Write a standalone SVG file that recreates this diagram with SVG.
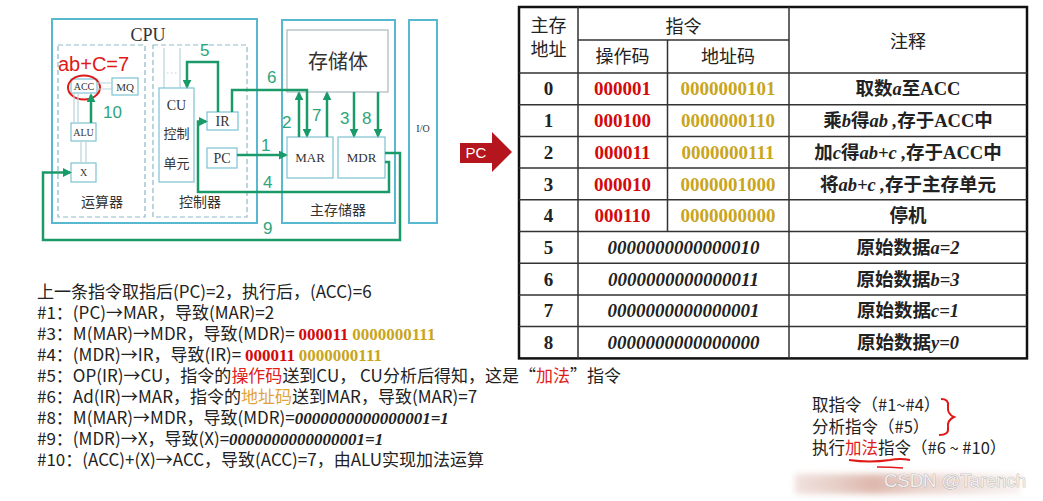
<svg xmlns="http://www.w3.org/2000/svg" width="1043" height="501" viewBox="0 0 1043 501">
<defs>
<marker id="ah" viewBox="0 0 10 10" refX="8" refY="5" markerWidth="3.6" markerHeight="3.6" orient="auto" markerUnits="strokeWidth">
<path d="M0,0 L10,5 L0,10 z" fill="#1a9a68"/>
</marker>
<linearGradient id="band" x1="0" x2="1" y1="0" y2="0">
<stop offset="0" stop-color="#eddcd8"/>
<stop offset="0.2" stop-color="#e2c4bb"/>
<stop offset="0.35" stop-color="#d8ab9e"/>
<stop offset="0.55" stop-color="#e6cbc3"/>
<stop offset="0.8" stop-color="#eee0dc"/>
<stop offset="1" stop-color="#f6efed"/>
</linearGradient>
<filter id="bl" x="-10%" y="-50%" width="120%" height="200%"><feGaussianBlur stdDeviation="3"/></filter>
</defs>
<style>
.cy{fill:none;stroke:#58b8d0;stroke-width:2}
.dash{fill:none;stroke:#8ab9c6;stroke-width:1.2;stroke-dasharray:5 3}
.sb{fill:#fff;stroke:#7cc3d4;stroke-width:1.2}
.gb{fill:#fff;stroke:#a9b8bd;stroke-width:1.2}
.gr{fill:none;stroke:#1a9a68;stroke-width:2.5}
.lt{fill:none;stroke:#b9d3db;stroke-width:1.2}
.lbl{font-family:"Liberation Sans",sans-serif;font-size:17px;fill:#2ea57a}
.bx{font-family:"Liberation Serif",serif;fill:#333;text-anchor:middle}
.cn{font-family:"Noto Sans CJK SC",sans-serif;fill:#333;text-anchor:middle}
.th{font-family:"Noto Sans CJK SC",sans-serif;font-size:18px;fill:#222;text-anchor:middle}
.tn{font-family:"Liberation Serif",serif;font-weight:bold;font-size:19px;fill:#222;text-anchor:middle}
.op{font-family:"Liberation Serif",serif;font-weight:bold;font-size:19px;fill:#d40a0a;text-anchor:middle}
.ad{font-family:"Liberation Serif",serif;font-weight:bold;font-size:19px;fill:#c9a51c;text-anchor:middle}
.zi{font-family:"Liberation Serif",serif;font-weight:bold;font-style:italic;font-size:19px;fill:#222;text-anchor:middle}
.nt{font-family:"Noto Sans CJK SC",sans-serif;font-weight:bold;font-size:18.5px;fill:#222;text-anchor:middle}
.it{font-family:"Liberation Serif",serif;font-weight:bold;font-style:italic}
.sf{font-family:"Liberation Serif",serif;font-weight:bold}
.tl{stroke:#333;stroke-width:1.5;fill:none}
.bt{font-family:"Noto Sans CJK SC",sans-serif;font-size:17px;fill:#222}
.rd{fill:#e02020}
.og{fill:#e3a33c}
.rb{font-family:"Liberation Serif",serif;font-weight:bold;fill:#d40a0a}
.gd{font-family:"Liberation Serif",serif;font-weight:bold;fill:#c9a51c}
.bi{font-family:"Liberation Serif",serif;font-weight:bold;font-style:italic}
.rn{font-family:"Noto Sans CJK SC",sans-serif;font-size:16.5px;fill:#222}
</style>
<rect width="1043" height="501" fill="#fff"/>

<!-- CPU -->
<g id="cpu">
<rect class="cy" x="52" y="19" width="205" height="204"/>
<text class="bx" x="148" y="41" font-size="18">CPU</text>
</g>
<g id="alu-unit">
<rect class="dash" x="58" y="45" width="87" height="172"/>
<text class="cn" x="102" y="207" font-size="14">运算器</text>
</g>
<g id="ctrl-unit">
<rect class="dash" x="153" y="45" width="94" height="172"/>
<text class="cn" x="200" y="207" font-size="14">控制器</text>
<path class="lt" d="M164,48 V88 M180,48 V88"/>
<path class="lt" d="M167,73 H178" stroke-dasharray="1.5 2.5"/>
</g>
<g id="acc">
<rect class="sb" x="71" y="79" width="26" height="14"/>
<text class="bx" x="84" y="90" font-size="10">ACC</text>
<ellipse cx="84" cy="87.5" rx="16" ry="12" fill="none" stroke="#e01818" stroke-width="2"/>
</g>
<g id="mq">
<rect class="sb" x="112" y="78" width="26" height="17"/>
<text class="bx" x="125" y="90.5" font-size="11">MQ</text>
</g>
<g id="alu">
<rect class="sb" x="71" y="123" width="25" height="18"/>
<text class="bx" x="83.5" y="136" font-size="10">ALU</text>
</g>
<g id="x">
<rect class="sb" x="71" y="163" width="25" height="19"/>
<text class="bx" x="83.5" y="176" font-size="10">X</text>
</g>
<g id="cu">
<rect class="sb" x="159" y="88" width="35" height="94"/>
<text class="bx" x="176.5" y="110" font-size="14">CU</text>
<text class="cn" x="176.5" y="138" font-size="13">控制</text>
<text class="cn" x="176.5" y="168" font-size="13">单元</text>
</g>
<g id="ir">
<rect class="sb" x="207" y="112" width="31" height="18"/>
<text class="bx" x="222.5" y="126" font-size="14">IR</text>
</g>
<g id="pc">
<rect class="sb" x="207" y="148" width="30" height="20"/>
<text class="bx" x="222" y="163" font-size="14">PC</text>
</g>
<g id="memory">
<rect class="cy" x="282" y="20" width="113" height="203"/>
<text class="cn" x="338" y="215" font-size="14">主存储器</text>
</g>
<g id="storage">
<rect class="gb" x="287" y="30" width="101" height="62"/>
<text class="cn" x="338" y="69" font-size="20">存储体</text>
</g>
<g id="mar">
<rect class="sb" x="287" y="137" width="46" height="41"/>
<text class="bx" x="310" y="162" font-size="13">MAR</text>
</g>
<g id="mdr">
<rect class="sb" x="338" y="137" width="47" height="41"/>
<text class="bx" x="361.5" y="162" font-size="13">MDR</text>
</g>
<g id="io">
<rect class="cy" x="409" y="20" width="28" height="203"/>
<text class="bx" x="423" y="132" font-size="10">I/O</text>
</g>

<g id="connectors">
<path class="lt" d="M97,83 H112 M97,89 H112"/>
<path class="lt" d="M74,93 V123 M78,93 V123"/>
<path class="lt" d="M81,141 V163 M86,141 V163"/>
<path class="gr" d="M91,123 V95" marker-end="url(#ah)"/>
<path class="gr" d="M218,112 V62 H187 V87" marker-end="url(#ah)"/>
<path class="gr" d="M232,112 V90 H307 V136" marker-end="url(#ah)"/>
<path class="gr" d="M237,155 H286" marker-end="url(#ah)"/>
<path class="gr" d="M385,162 H389 V192 H198 V121.5 H206" marker-end="url(#ah)"/>
<path class="gr" d="M385,153 H400 V240 H43 V172.5 H70" marker-end="url(#ah)"/>
<path class="gr" d="M299,137 V93" marker-end="url(#ah)"/>
<path class="gr" d="M327,137 V93" marker-end="url(#ah)"/>
<path class="gr" d="M354,92 V136" marker-end="url(#ah)"/>
<path class="gr" d="M378,92 V136" marker-end="url(#ah)"/>
<text class="lbl" x="103" y="118">10</text>
<text class="lbl" x="200" y="56">5</text>
<text class="lbl" x="267" y="83">6</text>
<text class="lbl" x="261" y="151">1</text>
<text class="lbl" x="263" y="188">4</text>
<text class="lbl" x="263" y="234">9</text>
<text class="lbl" x="282" y="128">2</text>
<text class="lbl" x="312" y="121">7</text>
<text class="lbl" x="340" y="124">3</text>
<text class="lbl" x="362" y="124">8</text>
</g>
<text x="58" y="71" font-family="Liberation Sans, sans-serif" font-size="20" fill="#e01818">ab+C=7</text>

<!-- PC arrow -->
<g id="pc-pointer">
<polygon points="460,143 492,143 492,132 512,152 492,172 492,163 460,163" fill="#b5161e"/>
<text x="476" y="158" font-family="Liberation Sans, sans-serif" font-size="15" fill="#fff" text-anchor="middle">PC</text>
</g>

<!-- Table -->
<g id="table">
<rect x="519" y="7" width="508" height="351.4" fill="#fff" stroke="#111" stroke-width="2.5"/>
<path class="tl" d="M578,7 V358.4 M789,7 V358.4 M667.5,40 V231.5 M578,40 H789"/>
<path class="tl" d="M519,73 H1027 M519,104.7 H1027 M519,136.4 H1027 M519,168.1 H1027 M519,199.8 H1027 M519,231.5 H1027 M519,263.2 H1027 M519,294.9 H1027 M519,326.6 H1027"/>
<text class="th" x="548.5" y="32">主存</text>
<text class="th" x="548.5" y="56">地址</text>
<text class="th" x="683.5" y="33">指令</text>
<text class="th" x="622.5" y="63">操作码</text>
<text class="th" x="728" y="63">地址码</text>
<text class="th" x="908" y="48">注释</text>

<text class="tn" x="548.5" y="95.4">0</text>
<text class="tn" x="548.5" y="127.1">1</text>
<text class="tn" x="548.5" y="158.8">2</text>
<text class="tn" x="548.5" y="190.5">3</text>
<text class="tn" x="548.5" y="222.2">4</text>
<text class="tn" x="548.5" y="253.9">5</text>
<text class="tn" x="548.5" y="285.6">6</text>
<text class="tn" x="548.5" y="317.3">7</text>
<text class="tn" x="548.5" y="349">8</text>

<text class="op" x="622.5" y="95.4">000001</text>
<text class="op" x="622.5" y="127.1">000100</text>
<text class="op" x="622.5" y="158.8">000011</text>
<text class="op" x="622.5" y="190.5">000010</text>
<text class="op" x="622.5" y="222.2">000110</text>

<text class="ad" x="728" y="95.4">0000000101</text>
<text class="ad" x="728" y="127.1">0000000110</text>
<text class="ad" x="728" y="158.8">0000000111</text>
<text class="ad" x="728" y="190.5">0000001000</text>
<text class="ad" x="728" y="222.2">0000000000</text>

<text class="zi" x="683.5" y="253.9">0000000000000010</text>
<text class="zi" x="683.5" y="285.6">0000000000000011</text>
<text class="zi" x="683.5" y="317.3">0000000000000001</text>
<text class="zi" x="683.5" y="349">0000000000000000</text>

<text class="nt" x="908" y="95.4">取数<tspan class="it">a</tspan>至<tspan class="sf">ACC</tspan></text>
<text class="nt" x="908" y="127.1">乘<tspan class="it">b</tspan>得<tspan class="it">ab ,</tspan>存于<tspan class="sf">ACC</tspan>中</text>
<text class="nt" x="908" y="158.8">加<tspan class="it">c</tspan>得<tspan class="it">ab+c  ,</tspan>存于<tspan class="sf">ACC</tspan>中</text>
<text class="nt" x="908" y="190.5">将<tspan class="it">ab+c ,</tspan>存于主存单元</text>
<text class="nt" x="908" y="222.2">停机</text>
<text class="nt" x="908" y="253.9">原始数据<tspan class="it">a=2</tspan></text>
<text class="nt" x="908" y="285.6">原始数据<tspan class="it">b=3</tspan></text>
<text class="nt" x="908" y="317.3">原始数据<tspan class="it">c=1</tspan></text>
<text class="nt" x="908" y="349">原始数据<tspan class="it">y=0</tspan></text>
</g>

<!-- Steps text -->
<g id="steps">
<text class="bt" x="37" y="297.5">上一条指令取指后(PC)=2，执行后，(ACC)=6</text>
<text class="bt" x="37" y="318.5">#1：(PC)→MAR，导致(MAR)=2</text>
<text class="bt" x="37" y="339.5">#3：M(MAR)→MDR，导致(MDR)= <tspan class="rb">000011</tspan> <tspan class="gd">0000000111</tspan></text>
<text class="bt" x="37" y="360.5">#4：(MDR)→IR，导致(IR)= <tspan class="rb">000011</tspan> <tspan class="gd">0000000111</tspan></text>
<text class="bt" x="37" y="381.5">#5：OP(IR)→CU，指令的<tspan class="rd">操作码</tspan>送到CU， CU分析后得知，这是“<tspan class="rd">加法</tspan>”指令</text>
<text class="bt" x="37" y="402.5">#6：Ad(IR)→MAR，指令的<tspan class="og">地址码</tspan>送到MAR，导致(MAR)=7</text>
<text class="bt" x="37" y="423.5">#8：M(MAR)→MDR，导致(MDR)=<tspan class="bi">0000000000000001=1</tspan></text>
<text class="bt" x="37" y="444.5">#9：(MDR)→X，导致(X)=<tspan class="bi">0000000000000001=1</tspan></text>
<text class="bt" x="37" y="465.5">#10：(ACC)+(X)→ACC，导致(ACC)=7，由ALU实现加法运算</text>
</g>

<!-- Phase notes -->
<g id="phases">
<text class="rn" x="812" y="411">取指令（#1~#4）</text>
<text class="rn" x="812" y="433">分析指令（#5）</text>
<text class="rn" x="812" y="454">执行<tspan class="rd">加法</tspan>指令（#6 ~ #10）</text>
<path d="M941,399 Q949,399 948,406 Q947,414 954,417 Q947,420 948,428 Q949,435 939,435" fill="none" stroke="#e01818" stroke-width="2"/>
<path d="M849,460 Q870,463 890,460 Q900,458 910,460" fill="none" stroke="#e01818" stroke-width="2.2"/>
<path d="M877,467 Q890,467 903,468" fill="none" stroke="#e01818" stroke-width="1.5"/>
</g>

<rect x="795" y="474" width="225" height="20" fill="url(#band)" filter="url(#bl)" opacity="0.85"/>
<text x="884" y="487" font-family="Liberation Sans, sans-serif" font-size="18.5" fill="#efefef" stroke="#9c9c9c" stroke-width="0.6" paint-order="stroke">CSDN @Tarench</text>
</svg>
